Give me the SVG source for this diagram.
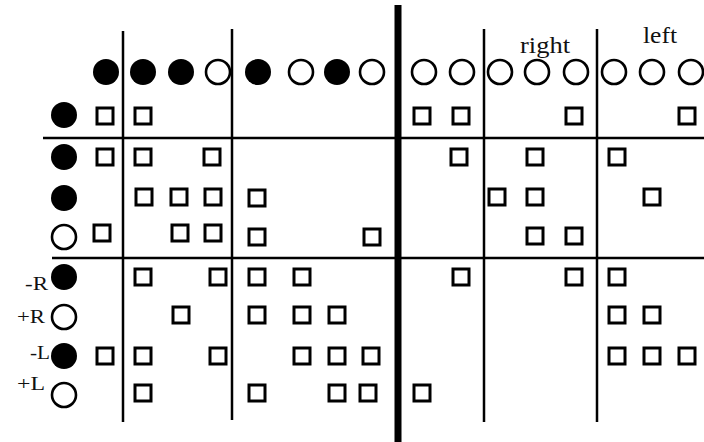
<svg xmlns="http://www.w3.org/2000/svg" width="704" height="442" viewBox="0 0 704 442">
<style>
.f{fill:#000}
.o{fill:#fff;stroke:#000;stroke-width:2.6}
.s{fill:#fff;stroke:#000;stroke-width:3}
.ln{stroke:#000;stroke-width:2.5;fill:none}
.tk{stroke:#000;stroke-width:7;fill:none}
.t{font-family:"Liberation Serif",serif;fill:#111}
</style>
<defs>
<circle id="F" r="13" class="f"/>
<circle id="O" r="12" class="o"/>
<rect id="S" x="-8" y="-8" width="16" height="16" class="s"/>
</defs>
<rect width="704" height="442" fill="#fff"/>
<g id="grid">
<line class="ln" x1="123" y1="31" x2="123" y2="422"/>
<line class="ln" x1="232" y1="29" x2="232" y2="420"/>
<line class="ln" x1="484" y1="29" x2="484" y2="422"/>
<line class="ln" x1="597" y1="29" x2="597" y2="422"/>
<line class="ln" x1="43" y1="138" x2="704" y2="138"/>
<line class="ln" x1="52" y1="258" x2="704" y2="258"/>
<line class="tk" x1="398" y1="5" x2="398" y2="442"/>
</g>
<g id="header">
<use href="#F" x="106" y="72"/><use href="#F" x="143" y="72"/><use href="#F" x="181" y="72"/><use href="#O" x="218" y="72"/>
<use href="#F" x="258" y="72"/><use href="#O" x="301" y="72"/><use href="#F" x="337" y="72"/><use href="#O" x="372" y="72"/>
<use href="#O" x="424" y="72"/><use href="#O" x="462" y="72"/><use href="#O" x="500" y="72"/><use href="#O" x="537" y="72"/>
<use href="#O" x="576" y="72"/><use href="#O" x="614" y="72"/><use href="#O" x="652" y="72"/><use href="#O" x="691" y="72"/>
<text class="t" x="520" y="53" font-size="23" textLength="50" lengthAdjust="spacingAndGlyphs">right</text>
<text class="t" x="643" y="43" font-size="23" textLength="34" lengthAdjust="spacingAndGlyphs">left</text>
</g>
<g id="row1">
<use href="#F" x="64" y="115"/>
<use href="#S" x="105" y="116"/><use href="#S" x="143" y="116"/>
<use href="#S" x="422" y="116"/><use href="#S" x="461" y="116"/><use href="#S" x="574" y="116"/><use href="#S" x="687" y="116"/>
</g>
<g id="row2">
<use href="#F" x="64" y="157"/>
<use href="#S" x="105" y="157"/><use href="#S" x="143" y="157"/><use href="#S" x="212" y="157"/>
<use href="#S" x="459" y="157"/><use href="#S" x="535" y="157"/><use href="#S" x="617" y="157"/>
</g>
<g id="row3">
<use href="#F" x="64" y="198"/>
<use href="#S" x="144" y="197"/><use href="#S" x="179" y="197"/><use href="#S" x="213" y="197"/><use href="#S" x="257" y="198"/>
<use href="#S" x="497" y="197"/><use href="#S" x="535" y="197"/><use href="#S" x="652" y="197"/>
</g>
<g id="row4">
<use href="#O" x="64" y="237"/>
<use href="#S" x="102" y="233"/><use href="#S" x="180" y="233"/><use href="#S" x="213" y="233"/><use href="#S" x="257" y="237"/>
<use href="#S" x="372" y="237"/><use href="#S" x="535" y="236"/><use href="#S" x="574" y="236"/>
</g>
<g id="rowMinusR">
<text class="t" x="25" y="290" font-size="19" textLength="23" lengthAdjust="spacingAndGlyphs">-R</text>
<use href="#F" x="64" y="277"/>
<use href="#S" x="143" y="277"/><use href="#S" x="218" y="277"/><use href="#S" x="257" y="277"/><use href="#S" x="302" y="277"/>
<use href="#S" x="461" y="277"/><use href="#S" x="574" y="277"/><use href="#S" x="617" y="277"/>
</g>
<g id="rowPlusR">
<text class="t" x="17" y="323" font-size="19" textLength="28" lengthAdjust="spacingAndGlyphs">+R</text>
<use href="#O" x="64" y="317"/>
<use href="#S" x="181" y="315"/><use href="#S" x="257" y="315"/><use href="#S" x="302" y="315"/><use href="#S" x="337" y="315"/>
<use href="#S" x="617" y="315"/><use href="#S" x="652" y="315"/>
</g>
<g id="rowMinusL">
<text class="t" x="30" y="359" font-size="19" textLength="20" lengthAdjust="spacingAndGlyphs">-L</text>
<use href="#F" x="64" y="356"/>
<use href="#S" x="105" y="356"/><use href="#S" x="143" y="356"/><use href="#S" x="218" y="356"/><use href="#S" x="302" y="356"/><use href="#S" x="337" y="356"/><use href="#S" x="371" y="356"/>
<use href="#S" x="617" y="356"/><use href="#S" x="652" y="356"/><use href="#S" x="687" y="356"/>
</g>
<g id="rowPlusL">
<text class="t" x="17" y="390" font-size="19" textLength="28" lengthAdjust="spacingAndGlyphs">+L</text>
<use href="#O" x="64" y="395"/>
<use href="#S" x="143" y="393"/><use href="#S" x="257" y="393"/><use href="#S" x="337" y="393"/><use href="#S" x="368" y="393"/><use href="#S" x="422" y="393"/>
</g>
</svg>
